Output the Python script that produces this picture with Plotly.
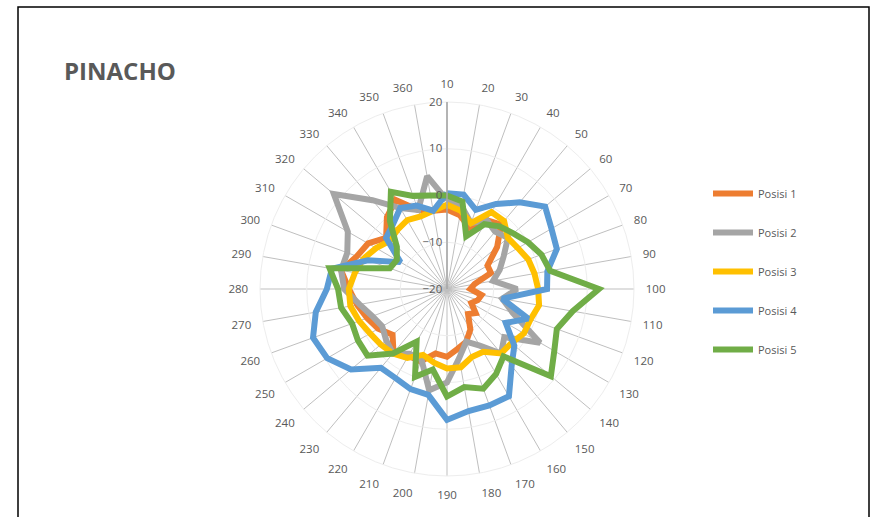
import plotly.graph_objects as go

# Direction categories (degrees) around the radar
categories = ["10", "20", "30", "40", "50", "60", "70", "80", "90", "100",
              "110", "120", "130", "140", "150", "160", "170", "180", "190", "200",
              "210", "220", "230", "240", "250", "260", "270", "280", "290", "300",
              "310", "320", "330", "340", "350", "360"]

posisi_1 = [-3, -4, -6, -3, -2, -6, -10, -10, -14, -15,
            -12.5, -13, -14, -12, -13, -10, -8, -7, -5.5, -6,
            -3.5, -3.5, -2.2, -4.8, -3, -1.8, -0.5, 1, 3, 0.5,
            -0.5, -3, 0, 2, -2, -3]
posisi_2 = [-1, -2, -5, -3, -4, -3, -6, -8, -10, -5,
            -8, -5, 3, -4, -2, -6, -8, -5, 0, 2,
            -4, -4, -2, -3, -4, -3, -1, 2, 3, 2.7,
            4.5, 11.6, 4.8, 0, -2, 4.5]
posisi_3 = [-2, -3, -5, -1, -1, -3, -2.5, -1.5, -1, -0.5,
            0, -1, -1, -2, -2, -4.5, -4.5, -3, -3, -4,
            -5, -3, -2, -1.5, -1, 0, 1, 1, 0, -1,
            -2.5, -4, -3.5, -3, -3.5, -3]
posisi_4 = [0.5, 0.5, -2, 1, 4.2, 7.4, 5.8, 5, 1.8, 1.4,
            -8, -1.5, -5.5, -1.2, 1.5, 6.5, 6.5, 6.5, 8, 3,
            2.8, 2, 2, 6.8, 9.6, 10.5, 8.5, 5.7, 5, -2,
            -8.5, -3, -2, 0, -1, -3]
posisi_5 = [0, -1, -8, -4, -2.5, -1.5, 0, 1.5, 2.4, 12.5,
            7.3, 5, 6.5, 9, -1.2, 1, 2.7, 1.3, 3, -2.5,
            0, -7, -2, 2.2, 2, 1.6, 3, 3.3, 5.5, -7,
            -7.6, -6, -1, 4, 1.2, 0.3]

series = [
    ("Posisi 1", posisi_1, "#ED7D31"),
    ("Posisi 2", posisi_2, "#A5A5A5"),
    ("Posisi 3", posisi_3, "#FFC000"),
    ("Posisi 4", posisi_4, "#5B9BD5"),
    ("Posisi 5", posisi_5, "#70AD47"),
]

fig = go.Figure()
for i, (name, vals, color) in enumerate(series):
    fig.add_trace(go.Scatterpolar(
        r=vals + vals[:1],
        theta=categories + categories[:1],
        mode="lines",
        name=name,
        legendgroup=f"g{i}",
        line=dict(color=color, width=6),
    ))

W, H = 876, 517
cx, cy, rad = 447, 289, 187

fig.update_layout(
    width=W, height=H,
    margin=dict(l=0, r=0, t=0, b=0),
    paper_bgcolor="white",
    plot_bgcolor="white",
    font=dict(family="Open Sans, Liberation Sans, sans-serif", color="#595959", size=11),
    polar=dict(
        domain=dict(x=[(cx - rad) / W, (cx + rad) / W],
                    y=[1 - (cy + rad) / H, 1 - (cy - rad) / H]),
        bgcolor="white",
        angularaxis=dict(
            type="category",
            categoryorder="array",
            categoryarray=categories,
            rotation=90,
            direction="clockwise",
            showgrid=True,
            gridcolor="#BFBFBF",
            gridwidth=1,
            showline=True,
            linecolor="#EDEDED",
            linewidth=1,
            ticks="outside",
            ticklen=9,
            tickcolor="rgba(0,0,0,0)",
            tickfont=dict(size=11.5, color="#595959"),
        ),
        radialaxis=dict(
            range=[-20, 20],
            tickvals=[-20, -10, 0, 10, 20],
            angle=90,
            tickangle=90,
            side="counterclockwise",
            showgrid=True,
            gridcolor="#EDEDED",
            gridwidth=1,
            showline=True,
            linecolor="#A6A6A6",
            linewidth=1.5,
            ticks="",
            tickfont=dict(size=11.5, color="#595959"),
        ),
    ),
    legend=dict(
        x=708 / W, y=1 - 179 / H,
        xanchor="left", yanchor="top",
        traceorder="grouped",
        tracegroupgap=20,
        itemwidth=40,
        font=dict(size=11, color="#595959"),
        bgcolor="rgba(0,0,0,0)",
    ),
    showlegend=True,
)

fig.add_annotation(
    text="<b>PINACHO</b>",
    xref="paper", yref="paper",
    x=62 / W, y=1 - 70 / H,
    xanchor="left", yanchor="middle",
    showarrow=False,
    font=dict(size=24, color="#595959", family="Open Sans, Liberation Sans, sans-serif"),
)

# Chart frame
fig.add_shape(
    type="rect", xref="paper", yref="paper",
    x0=18 / W, x1=869 / W, y0=-0.01, y1=1 - 7 / H,
    line=dict(color="#000000", width=1.5),
    fillcolor="rgba(0,0,0,0)",
)

fig.write_html("out.html")
